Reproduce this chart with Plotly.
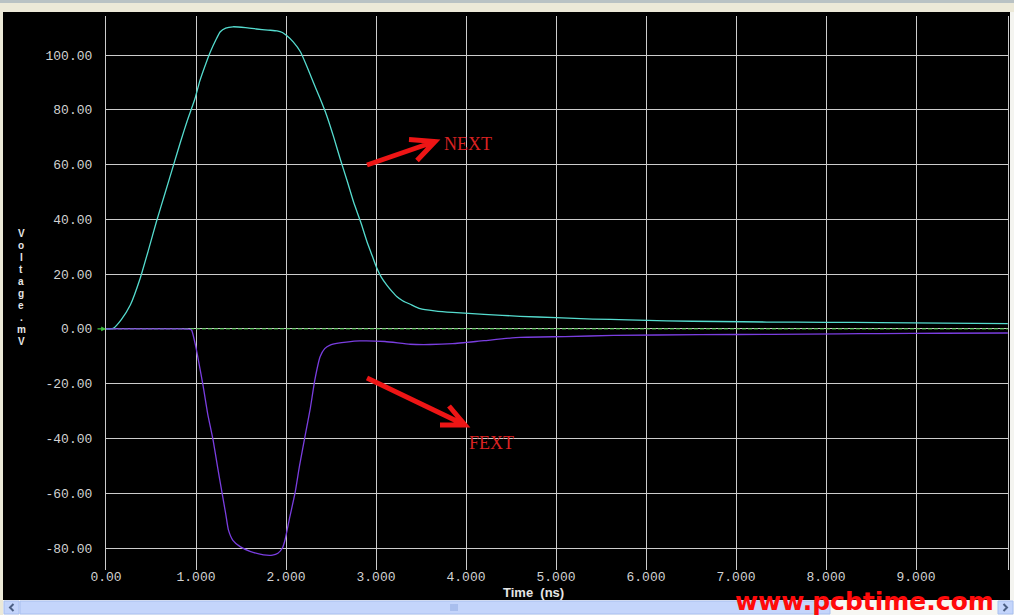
import plotly.graph_objects as go

# ---------------- data ----------------
next_t = [0, 0.08, 0.17, 0.27, 0.38, 0.47, 0.56, 0.66, 0.75, 0.83, 0.90, 0.99, 1.04, 1.10, 1.16,
          1.22, 1.27, 1.33, 1.41, 1.55, 1.67, 1.80, 1.90, 1.96, 2.01, 2.08, 2.16, 2.23, 2.30, 2.38,
          2.45, 2.53, 2.60, 2.68, 2.75, 2.83, 2.90, 2.96, 3.01, 3.06, 3.12, 3.18, 3.23, 3.30, 3.38,
          3.49, 3.65, 3.85, 4.2, 4.6, 5.0, 5.41, 5.8, 6.23, 6.8, 7.34, 8.0, 8.6, 9.3, 10.02]
next_v = [0, 0.2, 3.4, 8.7, 18.5, 28.6, 39.1, 50.0, 59.8, 68.5, 75.7, 84.2, 90.3, 96.0, 101.2,
          105.5, 108.5, 109.8, 110.3, 110.0, 109.5, 109.1, 108.8, 108.2, 107.0, 104.8, 101.2, 96.0, 90.3, 84.0,
          78.1, 70.0, 62.3, 54.0, 46.4, 39.0, 31.8, 26.5, 22.1, 18.8, 16.0, 13.6, 11.8, 10.2, 9.0,
          7.4, 6.6, 6.0, 5.3, 4.6, 4.1, 3.6, 3.3, 2.9, 2.7, 2.5, 2.4, 2.3, 2.1, 1.9]

fext_t = [0, 0.82, 0.92, 0.95, 0.99, 1.03, 1.08, 1.13, 1.19, 1.24, 1.29, 1.33, 1.36, 1.41, 1.49,
          1.60, 1.75, 1.85, 1.91, 1.96, 1.99, 2.04, 2.10, 2.15, 2.21, 2.27, 2.32, 2.38, 2.43, 2.49,
          2.58, 2.67, 2.82, 3.10, 3.38, 3.60, 3.85, 4.2, 4.6, 5.1, 5.64, 6.6, 7.4, 8.16, 8.6, 9.3, 10.02]
fext_v = [0, 0, -0.1, -0.4, -5.3, -12.0, -21.0, -31.0, -40.6, -50.5, -60.0, -67.5, -73.4, -77.2, -79.5,
          -81.2, -82.5, -82.6, -81.9, -80.0, -77.0, -69.0, -60.0, -50.0, -39.4, -29.0, -18.7, -10.1, -7.2, -5.9,
          -5.2, -4.8, -4.4, -4.6, -5.6, -5.7, -5.4, -4.3, -3.1, -2.8, -2.4, -2.1, -2.0, -1.8, -1.7, -1.6, -1.5]

ref_t = [0, 10.02]
ref_v = [0, 0]

y_ticks = [100, 80, 60, 40, 20, 0, -20, -40, -60, -80]
y_labels = ["100.00", "80.00", "60.00", "40.00", "20.00", "0.00", "-20.00", "-40.00", "-60.00", "-80.00"]
x_ticks = [0, 1, 2, 3, 4, 5, 6, 7, 8, 9]
x_labels = ["0.00", "1.000", "2.000", "3.000", "4.000", "5.000", "6.000", "7.000", "8.000", "9.000"]

y_title = "Voltage.mV"
x_title = "Time  (ns)"
watermark = "www.pcbtime.com"

# ---------------- layout geometry ----------------
W, H = 1014, 615
L, R, T, B = 106, 1008, 16, 570          # plot area in pixels
X_RANGE = [0, (R - L) / 90.0]
PX_PER_MV = (548 - 55) / 180.0
Y_RANGE = [-80 - (B - 548) / PX_PER_MV, 100 + (55 - T) / PX_PER_MV]


def pxx(p):   # pixel x -> paper x
    return (p - L) / (R - L)


def pxy(p):   # pixel y -> paper y
    return (B - p) / (B - T)


def dx(p):    # pixel x -> data x
    return X_RANGE[0] + (p - L) / (R - L) * (X_RANGE[1] - X_RANGE[0])


def dy(p):    # pixel y -> data y
    return Y_RANGE[1] - (p - T) / (B - T) * (Y_RANGE[1] - Y_RANGE[0])


fig = go.Figure()
fig.add_trace(go.Scatter(x=ref_t, y=ref_v, mode="lines",
                         line=dict(color="#3fc23f", width=1, dash="4px,2px"), hoverinfo="skip"))
fig.add_trace(go.Scatter(x=next_t, y=next_v, mode="lines", name="NEXT",
                         line=dict(color="#55dccf", width=1.3, shape="spline", smoothing=0.5)))
fig.add_trace(go.Scatter(x=fext_t, y=fext_v, mode="lines", name="FEXT",
                         line=dict(color="#7a3ee0", width=1.3, shape="spline", smoothing=0.5)))

grid = "#cccccc"
tick_font = dict(family="Liberation Mono, DejaVu Sans Mono, monospace", size=13, color="#d2d2d2")
fig.update_layout(
    width=W, height=H,
    margin=dict(l=L, r=W - R, t=T, b=H - B),
    paper_bgcolor="#000000", plot_bgcolor="#000000",
    showlegend=False,
    xaxis=dict(range=X_RANGE, tickvals=x_ticks, ticktext=x_labels, showgrid=True,
               gridcolor=grid, gridwidth=1.2, zeroline=False, showline=False, ticks="",
               tickfont=tick_font, ticklabelstandoff=-3),
    yaxis=dict(range=Y_RANGE, tickvals=y_ticks, ticktext=y_labels, showgrid=True,
               gridcolor=grid, gridwidth=1.2, zeroline=False, showline=True, mirror=True,
               linecolor=grid, linewidth=1.2, ticks="",
               tickfont=tick_font, ticklabelstandoff=10),
)

shapes = []
# window chrome: top band, left border, right strip, scrollbar
shapes.append(dict(type="rect", xref="paper", yref="paper", x0=pxx(0), x1=pxx(W), y0=pxy(12), y1=pxy(0),
                   fillcolor="#ece9d8", line=dict(width=0), layer="above"))
shapes.append(dict(type="rect", xref="paper", yref="paper", x0=pxx(0), x1=pxx(W), y0=pxy(3), y1=pxy(0),
                   fillcolor="#b9c2c4", line=dict(width=0), layer="above"))
shapes.append(dict(type="rect", xref="paper", yref="paper", x0=pxx(0), x1=pxx(3), y0=pxy(615), y1=pxy(12),
                   fillcolor="#ece9d8", line=dict(width=0), layer="above"))
shapes.append(dict(type="rect", xref="paper", yref="paper", x0=pxx(1010), x1=pxx(W), y0=pxy(600), y1=pxy(12),
                   fillcolor="#f4f4f0", line=dict(width=0), layer="above"))
shapes.append(dict(type="rect", xref="paper", yref="paper", x0=pxx(3), x1=pxx(W), y0=pxy(615), y1=pxy(600),
                   fillcolor="#f7f7f3", line=dict(width=0), layer="above"))
shapes.append(dict(type="rect", xref="paper", yref="paper", x0=pxx(20), x1=pxx(830), y0=pxy(614), y1=pxy(601),
                   fillcolor="#c4d5fb", line=dict(color="#a8bff0", width=1), layer="above"))
shapes.append(dict(type="rect", xref="paper", yref="paper", x0=pxx(4), x1=pxx(19), y0=pxy(614), y1=pxy(601),
                   fillcolor="#c4d5fb", line=dict(color="#a8bff0", width=1), layer="above"))
shapes.append(dict(type="rect", xref="paper", yref="paper", x0=pxx(998), x1=pxx(1013), y0=pxy(614), y1=pxy(601),
                   fillcolor="#c4d5fb", line=dict(color="#a8bff0", width=1), layer="above"))
for gx in (451, 453, 455, 457):
    shapes.append(dict(type="line", xref="paper", yref="paper", x0=pxx(gx), x1=pxx(gx), y0=pxy(611), y1=pxy(604),
                       line=dict(color="#8ea8e0", width=1), layer="above"))
# scrollbar arrow chevrons
shapes.append(dict(type="path", xref="paper", yref="paper",
                   path=f"M {pxx(13.5)},{pxy(604)} L {pxx(10)},{pxy(607.5)} L {pxx(13.5)},{pxy(611)}",
                   line=dict(color="#4d6185", width=2), layer="above"))
shapes.append(dict(type="path", xref="paper", yref="paper",
                   path=f"M {pxx(1003.5)},{pxy(604)} L {pxx(1007)},{pxy(607.5)} L {pxx(1003.5)},{pxy(611)}",
                   line=dict(color="#4d6185", width=2), layer="above"))

# red annotation arrows (drawn in data coordinates)
red = "#ee1515"


def arrow_path(tail, tip, arm1, arm2):
    return (f"M {dx(tail[0])},{dy(tail[1])} L {dx(tip[0])},{dy(tip[1])} "
            f"M {dx(arm1[0])},{dy(arm1[1])} L {dx(tip[0])},{dy(tip[1])} L {dx(arm2[0])},{dy(arm2[1])}")


shapes.append(dict(type="path", xref="x", yref="y",
                   path=arrow_path((367, 165), (435, 141.5), (409, 139.5), (417, 160.5)),
                   line=dict(color=red, width=5), layer="above"))
shapes.append(dict(type="path", xref="x", yref="y",
                   path=arrow_path((367, 378), (465, 425), (440, 425), (449, 406)),
                   line=dict(color=red, width=5), layer="above"))
fig.update_layout(shapes=shapes)

ann = []
# green zero marker arrow
ann.append(dict(xref="x", yref="y", x=0, y=0, ax=-10, ay=0, text="", showarrow=True,
                arrowhead=2, arrowsize=0.8, arrowwidth=1.2, arrowcolor="#3fc23f"))
# stacked y-axis title (upright letters, one per row)
step = 12.0
top_c = 287 - step * (len(y_title) - 1) / 2
for i, ch in enumerate(y_title):
    ann.append(dict(xref="paper", yref="paper", x=pxx(21), y=pxy(top_c + i * step), text=f"<b>{ch}</b>",
                    showarrow=False, xanchor="center", yanchor="middle",
                    font=dict(family="Liberation Sans, Arial, sans-serif", size=10, color="#e6e6e6")))
# x-axis title
ann.append(dict(xref="paper", yref="paper", x=pxx(533), y=pxy(592), text=f"<b>{x_title}</b>", showarrow=False,
                xanchor="center", yanchor="middle",
                font=dict(family="Liberation Sans Narrow, Arial Narrow, Liberation Sans, sans-serif",
                          size=13, color="#e6e6e6")))
# NEXT / FEXT labels
ann.append(dict(xref="paper", yref="paper", x=pxx(467.5), y=pxy(144), text="NEXT", showarrow=False,
                xanchor="center", yanchor="middle",
                font=dict(family="Liberation Serif, DejaVu Serif, serif", size=18, color="#d92222")))
ann.append(dict(xref="paper", yref="paper", x=pxx(491.5), y=pxy(442.5), text="FEXT", showarrow=False,
                xanchor="center", yanchor="middle",
                font=dict(family="Liberation Serif, DejaVu Serif, serif", size=18, color="#d92222")))
# watermark
ann.append(dict(xref="paper", yref="paper", x=pxx(864), y=pxy(601), text=f"<b>{watermark}</b>", showarrow=False,
                xanchor="center", yanchor="middle",
                font=dict(family="DejaVu Sans, Liberation Sans, sans-serif", size=25, color="#ff0a0a")))
fig.update_layout(annotations=ann)

fig.write_html("out.html", config={"displayModeBar": False},
               post_script="document.body.style.margin='0';document.body.style.overflow='hidden';")
